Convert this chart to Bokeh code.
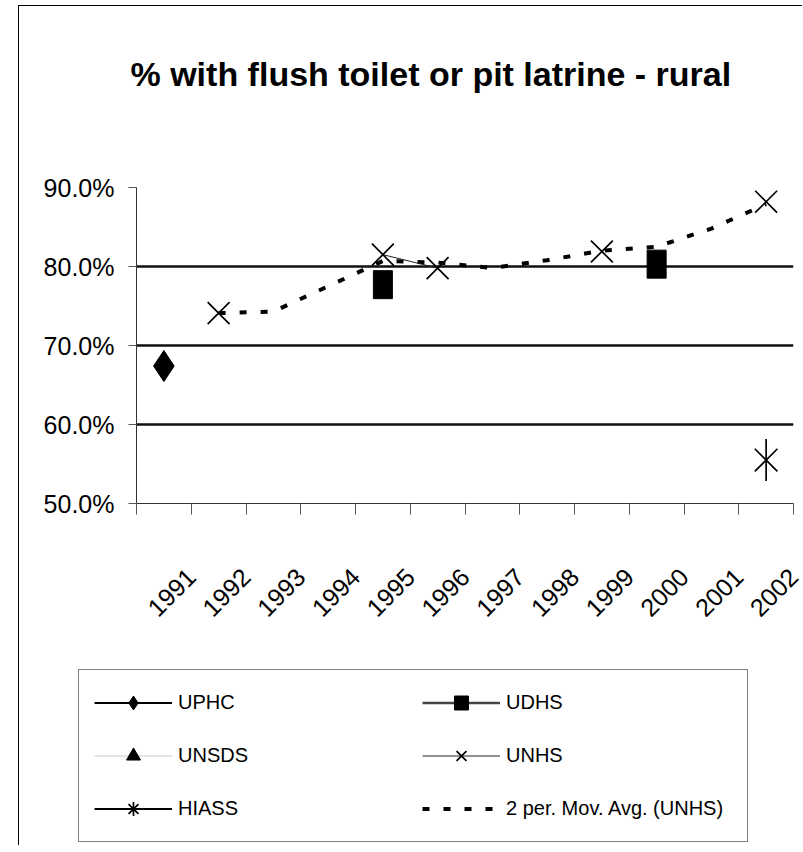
import math
from bokeh.plotting import figure
from bokeh.models import (FixedTicker, Legend, LegendItem, Range1d, Label)
from bokeh.embed import file_html
from bokeh.resources import INLINE

nan = float("nan")

# ---------------- data ----------------
years = ["1991", "1992", "1993", "1994", "1995", "1996",
         "1997", "1998", "1999", "2000", "2001", "2002"]
uphc = [67.4, nan, nan, nan, nan, nan, nan, nan, nan, nan, nan, nan]
udhs = [nan, nan, nan, nan, 77.7, nan, nan, nan, nan, 80.3, nan, nan]
unsds = [nan, nan, nan, nan, nan, nan, nan, nan, nan, nan, nan, nan]
unhs = [nan, 74.1, nan, nan, 81.5, 79.8, nan, nan, 81.9, nan, nan, 88.2]
hiass = [nan, nan, nan, nan, nan, nan, nan, nan, nan, nan, nan, 55.5]
ma_unhs = [nan, 74.1, 74.3, 77.5, 80.7, 80.5, 79.8, 80.8, 82.0, 82.5, 84.8, 87.9]
y_ticks = [50, 60, 70, 80, 90]
y_tick_labels = ["50.0%", "60.0%", "70.0%", "80.0%", "90.0%"]
grid_ticks = [60, 70, 80]
title_text = "% with flush toilet or pit latrine - rural"
series_names = ["UPHC", "UDHS", "UNSDS", "UNHS", "HIASS", "2 per. Mov. Avg. (UNHS)"]

FONT = "Liberation Sans"
W = 784


def blank_panel(height, margin, styles):
    f = figure(width=W, height=height, output_backend="svg", toolbar_location=None,
               x_range=Range1d(0, 1), y_range=Range1d(0, 1),
               x_axis_type=None, y_axis_type=None,
               min_border_left=0, min_border_right=0, min_border_top=0,
               min_border_bottom=0, margin=margin, styles=styles)
    f.outline_line_color = None
    f.grid.visible = False
    f.background_fill_color = "white"
    f.border_fill_color = "white"
    return f


# ---------------- title panel ----------------
tp = blank_panel(100, (5, 0, 0, 18),
                 {"border-left": "1px solid black", "border-top": "1px solid black"})
tp.add_layout(Label(x=111, y=33, x_units="screen", y_units="screen", text=title_text,
                    text_font=FONT, text_font_size="34px", text_font_style="bold",
                    text_align="left", text_baseline="alphabetic", text_color="black"))

# ---------------- chart ----------------
# category centres on a numeric axis (category boundaries at integers)
xs = [i + 0.5 for i in range(len(years))]

p = figure(width=W, height=560, output_backend="svg", toolbar_location=None,
           x_range=Range1d(0, len(years)), y_range=Range1d(50, 90),
           min_border_left=117, min_border_right=10,
           min_border_top=82, min_border_bottom=162,
           margin=(0, 0, 0, 18), styles={"border-left": "1px solid black"})
p.outline_line_color = None
p.background_fill_color = "white"
p.border_fill_color = "white"

# grid
p.xgrid.visible = False
p.ygrid.ticker = FixedTicker(ticks=grid_ticks)
p.ygrid.grid_line_color = "#111111"
p.ygrid.grid_line_width = 2.5

# y axis
ya = p.yaxis[0]
ya.ticker = FixedTicker(ticks=y_ticks)
ya.major_label_overrides = dict(zip(y_ticks, y_tick_labels))
ya.major_label_text_font = FONT
ya.major_label_text_font_size = "25px"
ya.major_label_text_color = "black"
ya.major_label_standoff = 14
ya.major_tick_out = 8
ya.major_tick_in = 0
ya.minor_tick_out = 0
ya.minor_tick_in = 0
ya.axis_line_color = "#333333"
ya.major_tick_line_color = "#555555"

# x axis: ticks on category boundaries, each year's label ends at its right boundary
xa = p.xaxis[0]
xa.ticker = FixedTicker(ticks=list(range(len(years) + 1)))
overrides = {0: ""}
for i, y in enumerate(years):
    overrides[i + 1] = y
xa.major_label_overrides = overrides
xa.major_label_orientation = math.pi / 4
xa.major_label_text_font = FONT
xa.major_label_text_font_size = "25px"
xa.major_label_text_color = "black"
xa.major_label_standoff = 58
xa.major_tick_out = 11
xa.major_tick_in = 0
xa.minor_tick_out = 0
xa.minor_tick_in = 0
xa.axis_line_color = "#333333"
xa.major_tick_line_color = "#555555"


def draw_series(fig):
    """Draw the series into fig from the data arrays; returns renderers."""
    r = {}
    r["ma"] = fig.line(xs, ma_unhs, line_color="black", line_width=4, line_dash="7 14")
    r["uphc_l"] = fig.line(xs, uphc, line_color="black", line_width=2)
    r["uphc_m"] = fig.scatter(xs, uphc, marker="diamond", size=31, color="black")
    r["udhs_l"] = fig.line(xs, udhs, line_color="#444444", line_width=2.5)
    r["unsds_l"] = fig.line(xs, unsds, line_color="#e4e4e4", line_width=2)
    r["unsds_m"] = fig.scatter(xs, unsds, marker="triangle", size=20, color="black")
    r["unhs_l"] = fig.line(xs, unhs, line_color="#222222", line_width=1)
    r["unhs_m"] = fig.scatter(xs, unhs, marker="x", size=31, line_color="black",
                              line_width=1.7)
    r["hiass_l"] = fig.line(xs, hiass, line_color="black", line_width=2)
    return r


draw_series(p)
p.rect(xs, udhs, width=19, height=28, width_units="screen", height_units="screen",
       color="black")
p.scatter(xs, hiass, marker="x", size=32, line_color="black", line_width=1.7)
p.scatter(xs, hiass, marker="dash", angle=math.pi / 2, size=42, line_color="black",
          line_width=1.7)

# ---------------- legend panel ----------------
# Its glyph renderers use the same arrays; the panel's ranges keep them out of view,
# so only the legend swatches show.
lg = blank_panel(180, (0, 0, 0, 18), {"border-left": "1px solid black"})
lr = draw_series(lg)
udhs_m = lg.scatter(xs, udhs, marker="square", color="black")
hiass_m = lg.scatter(xs, hiass, marker="asterisk", line_color="black", line_width=1.7)

items = [
    LegendItem(label=series_names[0], renderers=[lr["uphc_l"], lr["uphc_m"]]),
    LegendItem(label=series_names[2], renderers=[lr["unsds_l"], lr["unsds_m"]]),
    LegendItem(label=series_names[4], renderers=[lr["hiass_l"], hiass_m]),
    LegendItem(label=series_names[1], renderers=[lr["udhs_l"], udhs_m]),
    LegendItem(label=series_names[3], renderers=[lr["unhs_l"], lr["unhs_m"]]),
    LegendItem(label=series_names[5], renderers=[lr["ma"]]),
]
legend = Legend(items=items, location=(59, 3), nrows=3,
                padding=15, spacing=18, margin=0,
                glyph_width=78, glyph_height=35, label_height=35, label_width=226,
                label_standoff=6,
                label_text_font=FONT, label_text_font_size="20px",
                label_text_color="black",
                border_line_color="black", border_line_width=1,
                background_fill_color="white", background_fill_alpha=1)
lg.add_layout(legend)

open("out.html", "w").write(file_html([tp, p, lg], INLINE))
